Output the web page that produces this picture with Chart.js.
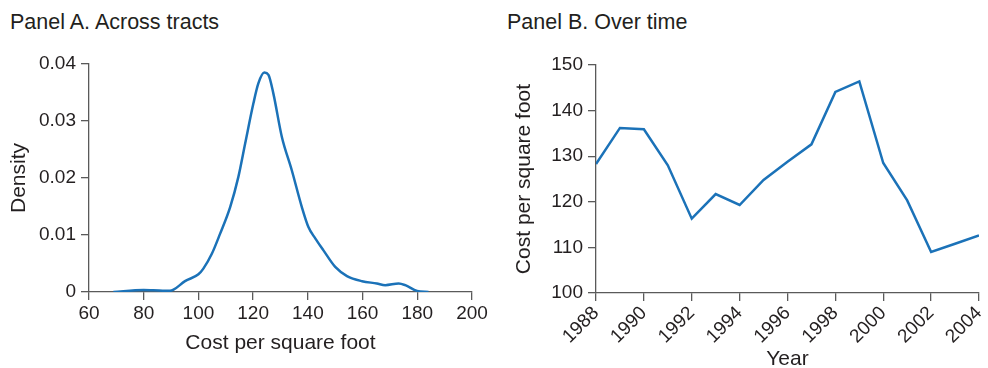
<!DOCTYPE html>
<html>
<head>
<meta charset="utf-8">
<script src="https://cdn.jsdelivr.net/npm/chart.js@4"></script>
<style>
  body { margin: 0; background: #fff; width: 988px; height: 368px; overflow: hidden; position: relative; font-family: "Liberation Sans", Arial, sans-serif; color: #231f20; }
  .panel-title { position: absolute; top: 10px; font-size: 21.5px; line-height: 24px; white-space: nowrap; }
  .box { position: absolute; top: 0; width: 494px; height: 368px; }
</style>
</head>
<body>
<div class="panel-title" style="left:10px">Panel A. Across tracts</div>
<div class="panel-title" style="left:507px">Panel B. Over time</div>
<div class="box" style="left:0"><canvas id="chartA" width="494" height="368"></canvas></div>
<div class="box" style="left:494px"><canvas id="chartB" width="494" height="368"></canvas></div>
<script>
// Panel A: kernel density of cost per square foot across tracts
const costValues = [68.9, 80, 83.5, 89.6, 90.9, 95.1, 100, 101.8, 104.9, 107.9, 111.6, 114.6, 117.1, 120.1, 121.9, 124.1, 125.6, 127.4, 130.5, 134.1, 137.8, 140.2, 142.7, 145.7, 150, 154.3, 159.8, 165.2, 168.3, 173.2, 175.6, 179.9, 184.1];
const densityValues = [0, 0.00035, 0.0003, 0.0002, 0.0004, 0.0019, 0.0031, 0.0041, 0.0067, 0.0102, 0.0149, 0.0202, 0.0261, 0.0331, 0.0366, 0.0385, 0.0381, 0.0348, 0.0272, 0.0214, 0.0149, 0.0114, 0.0094, 0.0073, 0.0044, 0.0028, 0.0019, 0.0015, 0.0012, 0.0015, 0.0012, 0.0002, 0];

// Panel B: average cost per square foot by year
const years = [1988, 1989, 1990, 1991, 1992, 1993, 1994, 1995, 1996, 1997, 1998, 1999, 2000, 2001, 2002, 2003, 2004];
const costByYear = [128.3, 136.2, 135.9, 128.0, 116.3, 121.7, 119.3, 124.8, 128.8, 132.6, 144.1, 146.4, 128.5, 120.3, 109.0, 110.8, 112.6];

const lineBlue = '#1b72b8';
const axisGrey = '#5a5a5a';
const textColor = '#231f20';
const fontFamily = '"Liberation Sans", Arial, sans-serif';
const tickFont = { family: fontFamily, size: 19 };
const titleFont = { family: fontFamily, size: 21 };

function axisStyle(extra) {
    return Object.assign({
        grid: { display: true, drawOnChartArea: false, drawTicks: true, tickLength: 8, color: axisGrey, lineWidth: 1.3 },
        border: { display: true, color: axisGrey, width: 1.3 }
    }, extra);
}

function pairs(xs, ys) {
    return xs.map((x, i) => ({ x: x, y: ys[i] }));
}

// Panel A
new Chart(document.getElementById('chartA').getContext('2d'), {
    type: 'line',
    data: {
        datasets: [{
            data: pairs(costValues, densityValues),
            borderColor: lineBlue,
            borderWidth: 2.5,
            pointRadius: 0,
            fill: false,
            cubicInterpolationMode: 'monotone'
        }]
    },
    options: {
        responsive: false,
        animation: false,
        layout: { padding: { top: 64, right: 22, left: 0, bottom: 0 } },
        plugins: { legend: { display: false }, tooltip: { enabled: false } },
        scales: {
            x: axisStyle({
                type: 'linear', min: 60, max: 200,
                ticks: { color: textColor, font: tickFont, padding: 2, stepSize: 20, maxRotation: 0 },
                title: { display: true, text: 'Cost per square foot', color: textColor, font: titleFont, padding: { bottom: 12 } },
                afterFit: s => { s.height = 76; }
            }),
            y: axisStyle({
                min: 0, max: 0.04,
                ticks: { color: textColor, font: tickFont, padding: 5, stepSize: 0.01 },
                title: { display: true, text: 'Density', color: textColor, font: titleFont, padding: { top: 7 } },
                afterFit: s => { s.width = 89; }
            })
        }
    }
});

// Panel B
new Chart(document.getElementById('chartB').getContext('2d'), {
    type: 'line',
    data: {
        datasets: [{
            data: pairs(years, costByYear),
            borderColor: lineBlue,
            borderWidth: 2.5,
            pointRadius: 0,
            fill: false,
            tension: 0
        }]
    },
    options: {
        responsive: false,
        animation: false,
        layout: { padding: { top: 65, right: 9, left: 0, bottom: 0 } },
        plugins: { legend: { display: false }, tooltip: { enabled: false } },
        scales: {
            x: axisStyle({
                type: 'linear', min: 1988, max: 2004,
                ticks: { color: textColor, font: tickFont, padding: 1, stepSize: 2, maxRotation: 45, minRotation: 45, callback: v => String(v) },
                title: { display: true, text: 'Year', color: textColor, font: titleFont, padding: { bottom: -4 } },
                afterFit: s => { s.height = 75; s.paddingRight = 0; s.paddingLeft = 0; }
            }),
            y: axisStyle({
                min: 100, max: 150,
                ticks: { color: textColor, font: tickFont, padding: 5, stepSize: 10 },
                title: { display: true, text: 'Cost per square foot', color: textColor, font: titleFont, padding: { top: 18 } },
                afterFit: s => { s.width = 102; }
            })
        }
    }
});
</script>
</body>
</html>
